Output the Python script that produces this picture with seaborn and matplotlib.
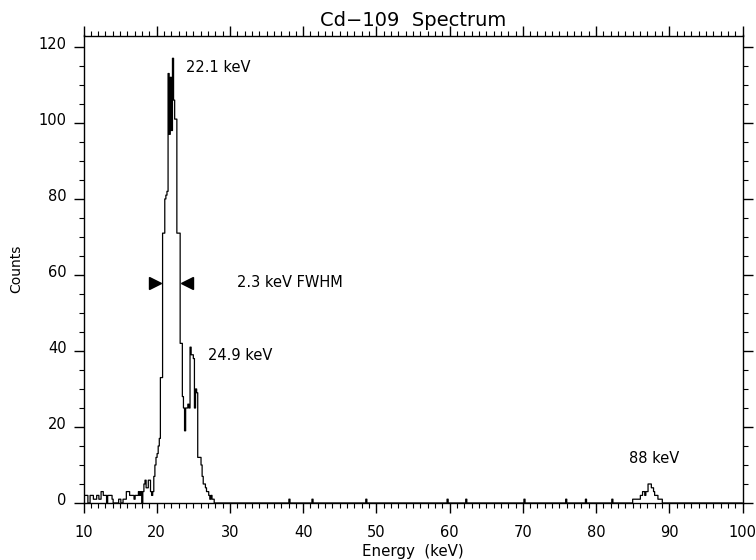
import numpy as np
import pandas as pd
import matplotlib
matplotlib.use("Agg")
import matplotlib.pyplot as plt
import matplotlib.transforms as mtransforms
import seaborn as sns
from matplotlib.ticker import MultipleLocator

# Cd-109 spectrum, channels of 0.15 keV
bin_width = 0.15

# counts per channel from 10.0 keV up to 28.0 keV
low_start = 10.0
low_counts = [2, 2, 2, 2, 0, 0, 2, 2, 2, 1,
              1, 1, 2, 2, 1, 1, 3, 3, 2, 2,
              2, 0, 2, 2, 2, 2, 1, 0, 0, 0,
              0, 0, 1, 1, 0, 0, 1, 1, 1, 3,
              3, 3, 2, 2, 2, 2, 1, 2, 2, 2,
              3, 2, 3, 0, 3, 5, 6, 4, 4, 6,
              6, 3, 2, 3, 7, 10, 12, 13, 15, 17,
              33, 33, 71, 71, 80, 81, 82, 113, 97, 112,
              98, 117, 106, 101, 101, 71, 71, 71, 42, 42,
              28, 25, 19, 25, 25, 26, 25, 41, 39, 39,
              38, 25, 30, 29, 12, 12, 12, 10, 7, 5,
              5, 4, 3, 3, 2, 1, 2, 1, 1, 0]

# single counts scattered at higher energies
blip_energy = [38.13, 41.27, 48.62, 59.79, 62.34, 70.15, 75.97, 78.55, 82.18]
blip_counts = [1, 1, 1, 1, 1, 1, 1, 1, 1]

# the 88 keV line, channels from 85.0 keV
line88_start = 85.0
line88_counts = [1, 1, 1, 1, 1, 1, 1, 2, 2, 3,
                 3, 2, 3, 3, 5, 5, 5, 4, 4, 3,
                 2, 2, 2, 1, 1, 1, 1]

# build full channel table
edges = 10 + bin_width * np.arange(601)
centers = edges[:-1] + bin_width / 2
weights = np.zeros(len(centers))
i0 = int(round((low_start - 10) / bin_width))
weights[i0:i0 + len(low_counts)] = low_counts
i0 = int(round((line88_start - 10) / bin_width))
weights[i0:i0 + len(line88_counts)] = line88_counts
for e, c in zip(blip_energy, blip_counts):
    weights[int((e - 10) / bin_width)] = c

df = pd.DataFrame({'Energy': centers, 'Counts': weights})

sns.set_style("ticks")
plt.rcParams['font.family'] = ['DejaVu Sans']
plt.rcParams['text.color'] = 'black'
plt.rcParams['axes.labelcolor'] = 'black'
plt.rcParams['xtick.color'] = 'black'
plt.rcParams['ytick.color'] = 'black'

fig = plt.figure(figsize=(7.56, 5.6), dpi=100)
ax = fig.add_axes([83.5 / 756, 1 - 503 / 560, (742.5 - 83.5) / 756, (503 - 35.5) / 560])

sns.histplot(data=df, x='Energy', weights='Counts', bins=list(edges), element='step',
             fill=False, color='black', linewidth=0.9, ax=ax)

# FWHM markers
ax.plot([19.74], [57.9], marker='>', color='black', markersize=8.5, linestyle='none')
ax.plot([24.1], [57.9], marker='<', color='black', markersize=8.5, linestyle='none')

ax.text(23.96, 114.6, '22.1 keV', fontsize=10.5, va='center', ha='left')
ax.text(30.9, 57.9, '2.3 keV FWHM', fontsize=10.5, va='center', ha='left')
ax.text(26.96, 38.9, '24.9 keV', fontsize=10.5, va='center', ha='left')
ax.text(84.45, 11.8, '88 keV', fontsize=10.5, va='center', ha='left')

ax.set_xlim(10, 100)
ax.set_ylim(0, 123)
ax.xaxis.set_major_locator(MultipleLocator(10))
ax.xaxis.set_minor_locator(MultipleLocator(1))
ax.yaxis.set_major_locator(MultipleLocator(20))
ax.yaxis.set_minor_locator(MultipleLocator(5))

for s in ax.spines.values():
    s.set_visible(True)
    s.set_color('black')
    s.set_linewidth(1)

ax.tick_params(which='both', direction='out', top=True, right=True, color='black')
ax.tick_params(which='major', length=7, width=1, labelsize=10.5, labelcolor='black')
ax.tick_params(which='minor', length=3.5, width=0.8)
ax.tick_params(axis='x', which='major', pad=9)
ax.tick_params(axis='y', which='major', pad=5)

ax.set_xlabel('Energy  (keV)', fontsize=10.8, labelpad=3)
ax.set_ylabel('Counts', fontsize=10)
ax.yaxis.set_label_coords(-0.091, 0.5)
ax.text(0.5, 1 + (35.5 - 20) / 467.5, 'Cd\u2212109  Spectrum', fontsize=14,
        ha='center', va='center', transform=ax.transAxes)

# y labels sit a little above their ticks in the original
shift = mtransforms.ScaledTranslation(0, 4 / 100, fig.dpi_scale_trans)
for t in ax.yaxis.get_major_ticks():
    t.label1.set_transform(t.label1.get_transform() + shift)

fig.savefig('out.png', dpi=100, facecolor='white')
